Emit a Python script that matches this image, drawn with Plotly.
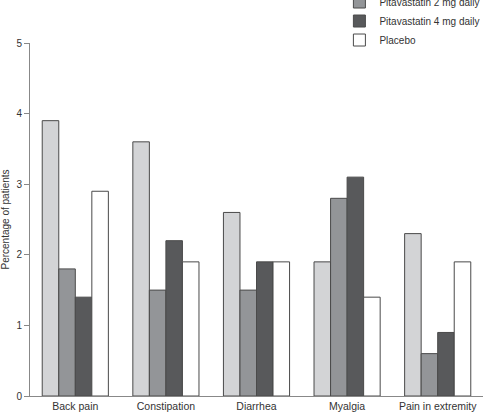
import plotly.graph_objects as go

categories = ["Back pain", "Constipation", "Diarrhea", "Myalgia", "Pain in extremity"]
series_names = ["Pitavastatin 1 mg daily", "Pitavastatin 2 mg daily", "Pitavastatin 4 mg daily", "Placebo"]
pita_1mg = [3.9, 3.6, 2.6, 1.9, 2.3]
pita_2mg = [1.8, 1.5, 1.5, 2.8, 0.6]
pita_4mg = [1.4, 2.2, 1.9, 3.1, 0.9]
placebo = [2.9, 1.9, 1.9, 1.4, 1.9]
y_ticks = [0, 1, 2, 3, 4, 5]

colors = ["#d3d4d6", "#939598", "#58595b", "#ffffff"]
values = [pita_1mg, pita_2mg, pita_4mg, placebo]

fig = go.Figure()
for name, vals, col in zip(series_names, values, colors):
    fig.add_trace(go.Bar(
        x=categories, y=vals, name=name,
        marker=dict(color=col, line=dict(color="#4a4a4a", width=1)),
    ))

fig.update_layout(
    width=489, height=413,
    barmode="group", bargap=0.27, bargroupgap=0,
    plot_bgcolor="white", paper_bgcolor="white",
    margin=dict(l=30, r=6, t=43, b=17, autoexpand=False),
    font=dict(family="Liberation Sans, Arial, sans-serif", size=10, color="#333333"),
    showlegend=True,
    legend=dict(x=0.683, y=1.211, xanchor="left", yanchor="top",
                bgcolor="rgba(0,0,0,0)", font=dict(size=10, color="#333333")),
    xaxis=dict(showline=True, linecolor="#888888", linewidth=1, ticks="",
               showgrid=False, zeroline=False, tickfont=dict(size=10.5)),
    yaxis=dict(range=[0, 5], tickvals=y_ticks, showline=True, linecolor="#888888",
               linewidth=1, ticks="outside", ticklen=5, tickcolor="#888888",
               showgrid=False, zeroline=False,
               title=dict(text="Percentage of patients", font=dict(size=10), standoff=4)),
)

fig.write_html("out.html")
